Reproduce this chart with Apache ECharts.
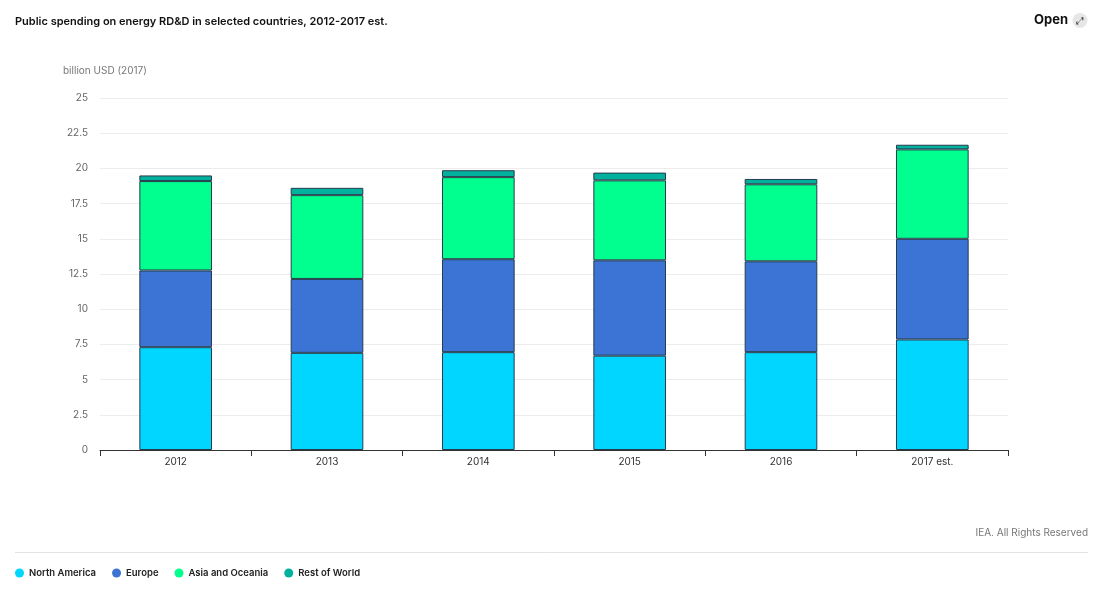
<!DOCTYPE html>
<html><head><meta charset="utf-8">
<script src="https://cdn.jsdelivr.net/npm/echarts@6/dist/echarts.min.js"></script>
<style>html,body{margin:0;padding:0;background:#fff}#c{width:1102px;height:589px}</style>
</head><body><div id="c"></div>
<script>
const categories = ['2012','2013','2014','2015','2016','2017 est.'];
const northAmerica = [7.3, 6.9, 6.95, 6.7, 6.95, 7.85];
const europe = [5.45, 5.25, 6.6, 6.77, 6.45, 7.15];
const asiaOceania = [6.35, 5.95, 5.83, 5.68, 5.47, 6.35];
const restOfWorld = [0.4, 0.52, 0.49, 0.55, 0.38, 0.33];
const yTicks = [0, 2.5, 5, 7.5, 10, 12.5, 15, 17.5, 20, 22.5, 25];

const F = 'Inter, "Noto Sans", sans-serif';
const chart = echarts.init(document.getElementById('c'));
const mk = (name, data, color) => ({
  name, type: 'bar', stack: 'a', data, barWidth: '48%',
  itemStyle: { color, borderColor: '#243c4c', borderWidth: 1 },
  emphasis: { disabled: true }
});
chart.setOption({
  animation: false,
  textStyle: { fontFamily: F },
  title: { text: 'Public spending on energy RD&D in selected countries, 2012-2017 est.', left: 10, top: 11,
    textStyle: { fontSize: 11, fontWeight: 600, color: '#111', fontFamily: F } },
  grid: { left: 100, right: 94, top: 98, bottom: 139 },
  legend: { left: 10, top: 563, itemWidth: 9, itemHeight: 9, itemGap: 16, icon: 'circle',
    itemStyle: { borderWidth: 0 },
    textStyle: { fontSize: 9.5, fontWeight: 600, color: '#222', fontFamily: F } },
  xAxis: { type: 'category', data: categories,
    axisLine: { lineStyle: { color: '#333' } },
    axisTick: { show: true, length: 6, lineStyle: { color: '#333' } },
    axisLabel: { fontSize: 10, color: '#333', margin: 7 } },
  yAxis: { type: 'value', min: 0, max: 25, interval: 2.5,
    name: 'billion USD (2017)', nameLocation: 'end', nameGap: 22,
    nameTextStyle: { fontSize: 10, color: '#777', align: 'left', padding: [0, 0, 0, -37] },
    axisLine: { show: false }, axisTick: { show: false },
    splitLine: { lineStyle: { color: '#ececec' } },
    axisLabel: { fontSize: 10, color: '#666', margin: 12,
      formatter: v => yTicks.includes(v) ? String(v) : '' } },
  series: [
    mk('North America', northAmerica, '#00d6ff'),
    mk('Europe', europe, '#3c74d6'),
    mk('Asia and Oceania', asiaOceania, '#00ff8f'),
    mk('Rest of World', restOfWorld, '#00b19e')
  ],
  graphic: [
    { type: 'text', right: 34, top: 14, style: { text: 'Open', font: '700 13px ' + F, fill: '#111' } },
    { type: 'circle', shape: { cx: 1080, cy: 20.5, r: 7.5 }, style: { fill: '#e6e6e6' } },
    { type: 'text', x: 1080, y: 21, style: { text: '⤢', font: '10px "DejaVu Sans"', fill: '#333', align: 'center', verticalAlign: 'middle' } },
    { type: 'text', right: 14, top: 528, style: { text: 'IEA. All Rights Reserved', font: '10px ' + F, fill: '#777' } },
    { type: 'line', shape: { x1: 15, y1: 552.5, x2: 1088, y2: 552.5 }, style: { stroke: '#e2e2e2', lineWidth: 1 } }
  ]
});
</script></body></html>
